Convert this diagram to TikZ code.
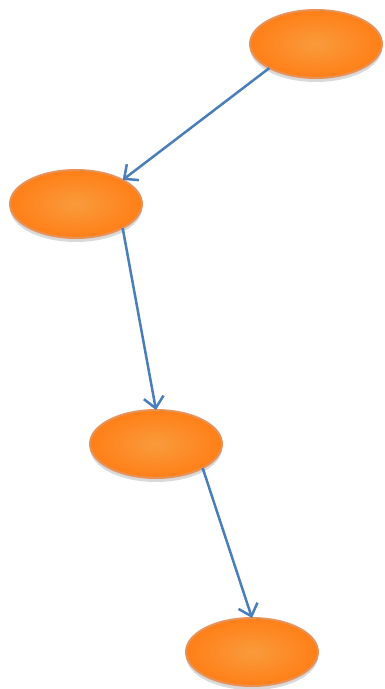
\documentclass[tikz,border=0pt]{standalone}
\usepackage{tikz}
\usetikzlibrary{arrows.meta}
\usetikzlibrary{shapes.geometric}
\usetikzlibrary{shadows}

\definecolor{blobfill}{HTML}{FF7F17}
\definecolor{blobcore}{HTML}{F99B3C}
\definecolor{blobedge}{HTML}{E8925A}
\definecolor{linkblue}{HTML}{4A7EBB}

\tikzset{
  blob/.style={ellipse, minimum width=132pt, minimum height=68pt, inner sep=0pt, outer sep=0pt,
    draw=blobedge, line width=2pt, inner color=blobcore, outer color=blobfill,
    drop shadow={shadow xshift=0pt, shadow yshift=-4pt, opacity=0.25, fill=black!60}},
  link/.style={draw=linkblue, line width=2.5pt, -{Straight Barb[length=11pt,width=20pt,line width=2.5pt]}}
}

\begin{document}
\begin{tikzpicture}[x=1pt,y=-1pt]
            \useasboundingbox (0,0) rectangle (385,689);
            \node[blob](top) at (316,44){};
            \node[blob](left) at (76,204){};
            \node[blob](mid) at (156,444){};
            \node[blob](bottom) at (252,652){};
            \draw[link](top.south west)--(left.north east);
            \draw[link](left.south east)--(mid.north);
            \draw[link](mid.south east)--(bottom.north);
        \end{tikzpicture}
\end{document}
